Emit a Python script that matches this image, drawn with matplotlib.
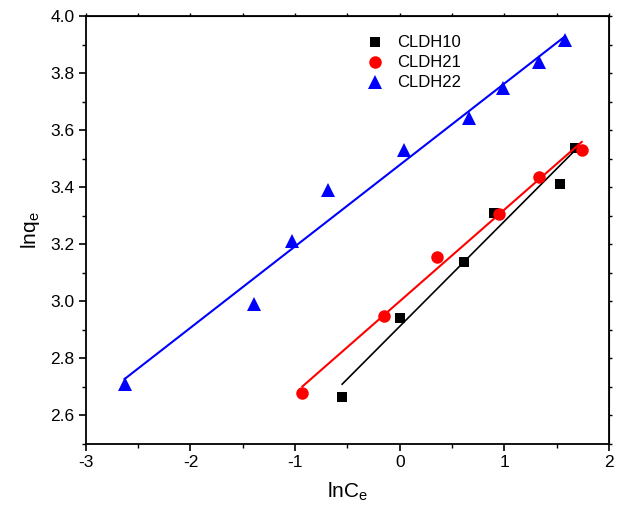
import numpy as np
import matplotlib.pyplot as plt
from matplotlib.ticker import MultipleLocator

plt.rcParams['font.family'] = ['Liberation Sans', 'DejaVu Sans']
plt.rcParams['mathtext.fontset'] = 'custom'
plt.rcParams['mathtext.rm'] = 'Liberation Sans'
plt.rcParams['mathtext.it'] = 'Liberation Sans'
plt.rcParams['axes.unicode_minus'] = False

# Freundlich plot data (lnCe, lnqe)
x_cldh10 = [-0.55, 0.0, 0.61, 0.90, 1.53, 1.68]
y_cldh10 = [2.666, 2.943, 3.139, 3.31, 3.412, 3.538]

x_cldh21 = [-0.93, -0.15, 0.36, 0.95, 1.33, 1.74]
y_cldh21 = [2.68, 2.95, 3.156, 3.307, 3.436, 3.531]

x_cldh22 = [-2.63, -1.39, -1.03, -0.69, 0.04, 0.66, 0.99, 1.33, 1.58]
y_cldh22 = [2.71, 2.99, 3.21, 3.39, 3.53, 3.643, 3.748, 3.839, 3.916]

series = [
    ("CLDH10", x_cldh10, y_cldh10, "black", "s", 7.5, 1.2),
    ("CLDH21", x_cldh21, y_cldh21, "red", "o", 9, 1.5),
    ("CLDH22", x_cldh22, y_cldh22, "blue", "^", 10, 1.5),
]

fig = plt.figure(figsize=(6.22, 5.18), dpi=100)
ax = fig.add_axes([0.138, 0.143, 0.841, 0.826])

for name, xs, ys, color, marker, ms, lw in series:
    xs = np.array(xs)
    ys = np.array(ys)
    ax.plot(xs, ys, linestyle='none', marker=marker, color=color,
            markersize=ms, markeredgewidth=0, label=name)
    # linear fit
    k, b = np.polyfit(xs, ys, 1)
    xf = np.array([xs.min(), xs.max()])
    ax.plot(xf, k * xf + b, color=color, linewidth=lw)

ax.set_xlim(-3, 2)
ax.set_ylim(2.5, 4.0)
ax.xaxis.set_major_locator(MultipleLocator(1))
ax.xaxis.set_minor_locator(MultipleLocator(0.5))
ax.set_yticks(np.arange(2.6, 4.01, 0.2))
ax.yaxis.set_minor_locator(MultipleLocator(0.1))
ax.yaxis.set_major_formatter(plt.FormatStrFormatter('%.1f'))

for s in ax.spines.values():
    s.set_linewidth(1.3)
ax.tick_params(which='major', direction='out', length=5, width=1.2, labelsize=12.5, pad=3)
ax.tick_params(which='minor', direction='out', length=3, width=1.0)

# tiny ticks on the top and right axes, no labels
top = ax.secondary_xaxis('top')
top.xaxis.set_major_locator(MultipleLocator(0.5))
top.tick_params(direction='out', length=2, width=1.0, labeltop=False)
right = ax.secondary_yaxis('right')
right.yaxis.set_major_locator(MultipleLocator(0.1))
right.tick_params(direction='out', length=2, width=1.0, labelright=False)

ax.set_xlabel(r'lnC$_\mathregular{e}$', fontsize=15, labelpad=8)
ax.set_ylabel(r'lnq$_\mathregular{e}$', fontsize=15, labelpad=6)

ax.legend(loc='upper left', bbox_to_anchor=(0.5, 0.99), frameon=False,
          fontsize=12, handletextpad=0.6, labelspacing=0.3,
          handlelength=1.5)

fig.savefig('out.png', dpi=100)
